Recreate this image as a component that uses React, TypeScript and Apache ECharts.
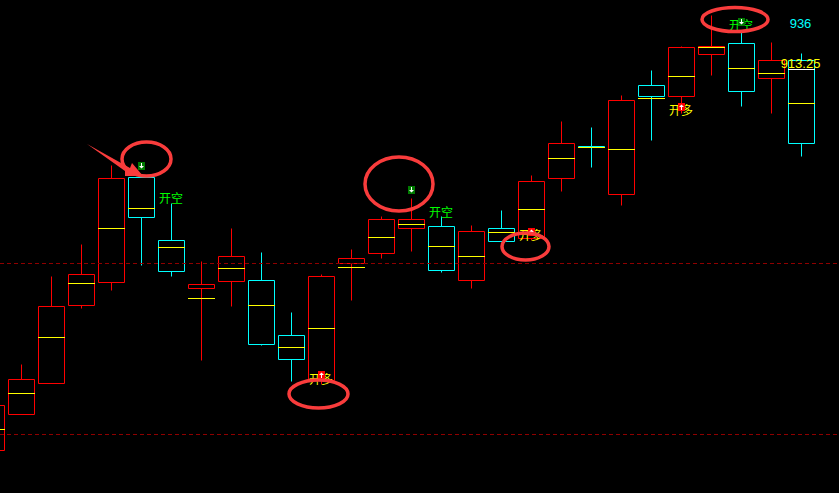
import React, { useEffect, useRef } from "react";
import * as echarts from "echarts";

const W = 839;
const H = 493;

const categories = Array.from({ length: 28 }, (_, i) => i);
const kinds = ["r","r","r","r","r","c","c","r","r","c","c","r","r","r","r","c","r","c","r","r","c","r","c","r","r","c","r","c"];
const highs = [829.25,839.5,861.5,869.5,889.25,886.5,879.75,865.25,873.5,867.5,852.5,862,868.25,876.5,881,876.5,874.25,878,886.75,900.25,898.75,906.75,913,919,926.75,923,920,917.25];
const tops = [829.25,835.75,854,862,886,886.25,870.5,859.5,866.5,860.5,846.75,861.5,866,875.75,875.75,874,872.75,873.5,885.25,894.75,894,905.5,909.25,918.75,919,919.75,915.5,915.5];
const mids = [823.25,832.25,846.25,859.75,873.5,878.5,868.75,856,863.5,854.25,843.75,848.5,863.75,871.25,874.5,869,866.5,872.5,878.25,891,893.75,893.25,906,911.5,918.75,913.5,912.25,904.75];
const bottoms = [818,827,834.75,854.25,860,876.25,862.75,858.5,860.25,844.5,840.75,835.5,864.75,867.25,873.5,863,860.5,870.25,871,886,893.75,882,906.5,906.5,917,907.75,911,894.75];
const lows = [818,827,834.75,853.5,858,864.25,861.5,840.5,854,844.25,835.25,834.5,855.5,866,867.75,862.5,858.5,870.25,870.5,882.75,888.75,879.25,895.5,902.25,911.75,904,902.25,891.5];

const lastPrice = 913.25;
const lastIndex = 27;
const levelLines = [864.75, 822];

const signalKinds = ["short", "short", "short", "long", "long", "long"];
const signalIndex = [5, 14, 25, 11, 18, 23];
const signalPrice = [889, 883, 925, 836.75, 872.5, 903.75];
const labelIndex = [6, 15, 25, 11, 18, 23];
const labelPrice = [881.25, 877.75, 924.5, 836, 872, 903.25];
const labelText: Record<string, string> = { short: "开空", long: "开多" };

const RED = "#ff0000";
const CYAN = "#00ffff";
const YELLOW = "#ffff00";
const LINE = (x1: number, y1: number, x2: number, y2: number, stroke: string) => ({
  type: "line",
  silent: true,
  shape: { x1, y1, x2, y2 },
  style: { stroke, lineWidth: 1 },
});
const snap = (v: number) => Math.round(v) + 0.5;

function renderCandle(_: any, api: any) {
  const i = api.value(0);
  const cx = Math.round(api.coord([i, 900])[0] - 0.5) + 0.5;
  const row = (k: number) => snap(api.coord([i, api.value(k)])[1]);
  const high = row(1), top = row(2), mid = row(3), bottom = row(4), low = row(5);
  const color = kinds[i] === "r" ? RED : CYAN;
  const children: any[] = [];
  if (high < top) children.push(LINE(cx, high, cx, top, color));
  if (low > bottom) children.push(LINE(cx, bottom, cx, low, color));
  children.push({
    type: "rect",
    silent: true,
    shape: { x: cx - 13, y: top, width: 26, height: bottom - top },
    style: { fill: "none", stroke: color, lineWidth: 1 },
  });
  children.push(LINE(cx - 13.5, mid, cx + 13.5, mid, YELLOW));
  return { type: "group", children };
}

function renderLast(_: any, api: any) {
  const i = api.value(0);
  const cx = Math.round(api.coord([i, 900])[0] - 0.5) + 0.5;
  const y = snap(api.coord([i, api.value(1)])[1]);
  return LINE(cx - 13.5, y, cx + 13.5, y, "#ffffff");
}

function renderLabel(_: any, api: any) {
  const n = api.value(2);
  const [x, y] = api.coord([api.value(0), api.value(1)]);
  const kind = signalKinds[n];
  return {
    type: "text",
    silent: true,
    x: x - 0.5,
    y,
    style: {
      text: labelText[kind],
      fill: kind === "short" ? "#00ff00" : YELLOW,
      font: '12px "Noto Sans CJK SC"',
      align: "center",
      verticalAlign: "middle",
    },
  };
}

function renderMarker(_: any, api: any) {
  const n = api.value(2);
  const [px, py] = api.coord([api.value(0), api.value(1)]);
  const x = Math.round(px - 0.5);
  const y = Math.round(py);
  const short = signalKinds[n] === "short";
  const fill = short ? "#007a00" : "#ff0000";
  const cx = x + 0.5;
  const white = short
    ? [[cx - 0.5, y - 3], [cx + 0.5, y - 3], [cx + 0.5, y], [cx + 2.5, y], [cx, y + 2.5], [cx - 2.5, y], [cx - 0.5, y]]
    : [[cx - 0.5, y + 3], [cx + 0.5, y + 3], [cx + 0.5, y], [cx + 2.5, y], [cx, y - 2.5], [cx - 2.5, y], [cx - 0.5, y]];
  return {
    type: "group",
    children: [
      { type: "rect", silent: true, shape: { x: x - 3, y: y - 4, width: 7, height: 8 }, style: { fill, stroke: "none" } },
      { type: "polygon", silent: true, shape: { points: white }, style: { fill: "#ffffff", stroke: "none" } },
    ],
  };
}

const annotationRed = "#f93c3c";
const ellipse = (cx: number, cy: number, rx: number, ry: number) => ({
  type: "ellipse",
  silent: true,
  z: 100,
  shape: { cx, cy, rx, ry },
  style: { fill: "none", stroke: annotationRed, lineWidth: 3.5 },
});

export default function App() {
  const ref = useRef<HTMLDivElement>(null);

  useEffect(() => {
    document.body.style.margin = "0";
    document.body.style.background = "#000";
    const chart = echarts.init(ref.current!, undefined, { renderer: "svg" });
    chart.setOption({
      animation: false,
      backgroundColor: "#000000",
      grid: { left: 0, top: 0, width: W, height: H, containLabel: false },
      xAxis: { type: "value", min: 0.28333333, max: 28.25, show: false, scale: true },
      yAxis: { type: "value", min: 807.25, max: 930.5, show: false, scale: true },
      series: [
        {
          type: "line",
          data: [],
          silent: true,
          markLine: {
            silent: true,
            symbol: "none",
            label: { show: false },
            lineStyle: { color: "#8f0000", width: 1, type: [4, 3] },
            data: levelLines.map((yAxis) => ({ yAxis })),
          },
        },
        {
          type: "custom",
          clip: false,
          silent: true,
          renderItem: renderCandle,
          encode: { x: 0, y: [1, 2, 3, 4, 5] },
          data: categories.map((i) => [i, highs[i], tops[i], mids[i], bottoms[i], lows[i]]),
        },
        {
          type: "custom",
          clip: false,
          silent: true,
          renderItem: renderLast,
          encode: { x: 0, y: 1 },
          data: [[lastIndex, lastPrice]],
        },
        {
          type: "custom",
          clip: false,
          silent: true,
          renderItem: renderLabel,
          encode: { x: 0, y: 1 },
          data: labelIndex.map((i, n) => [i, labelPrice[n], n]),
        },
        {
          type: "custom",
          clip: false,
          silent: true,
          renderItem: renderMarker,
          encode: { x: 0, y: 1 },
          data: signalIndex.map((i, n) => [i, signalPrice[n], n]),
        },
      ],
      graphic: [
        ellipse(146.5, 159, 24.5, 17),
        ellipse(399, 184, 34, 27),
        ellipse(525.5, 246.5, 23.5, 13.5),
        ellipse(318.5, 394, 29.5, 14),
        ellipse(735, 19.5, 33, 12),
        {
          type: "polygon",
          silent: true,
          z: 100,
          shape: {
            points: [[87, 144], [130, 168], [132, 163], [143, 176], [125, 176], [125, 171]],
          },
          style: { fill: annotationRed, stroke: "none" },
        },
        {
          type: "text",
          silent: true,
          z: 100,
          x: 800.5,
          y: 23.5,
          style: { text: "936", fill: CYAN, font: '13px "Liberation Sans"', align: "center", verticalAlign: "middle" },
        },
        {
          type: "text",
          silent: true,
          z: 100,
          x: 800.5,
          y: 63,
          style: { text: "913.25", fill: YELLOW, font: '13px "Liberation Sans"', align: "center", verticalAlign: "middle" },
        },
      ],
    });
    return () => chart.dispose();
  }, []);

  return <div ref={ref} style={{ position: "absolute", left: 0, top: 0, width: W, height: H, background: "#000" }} />;
}
